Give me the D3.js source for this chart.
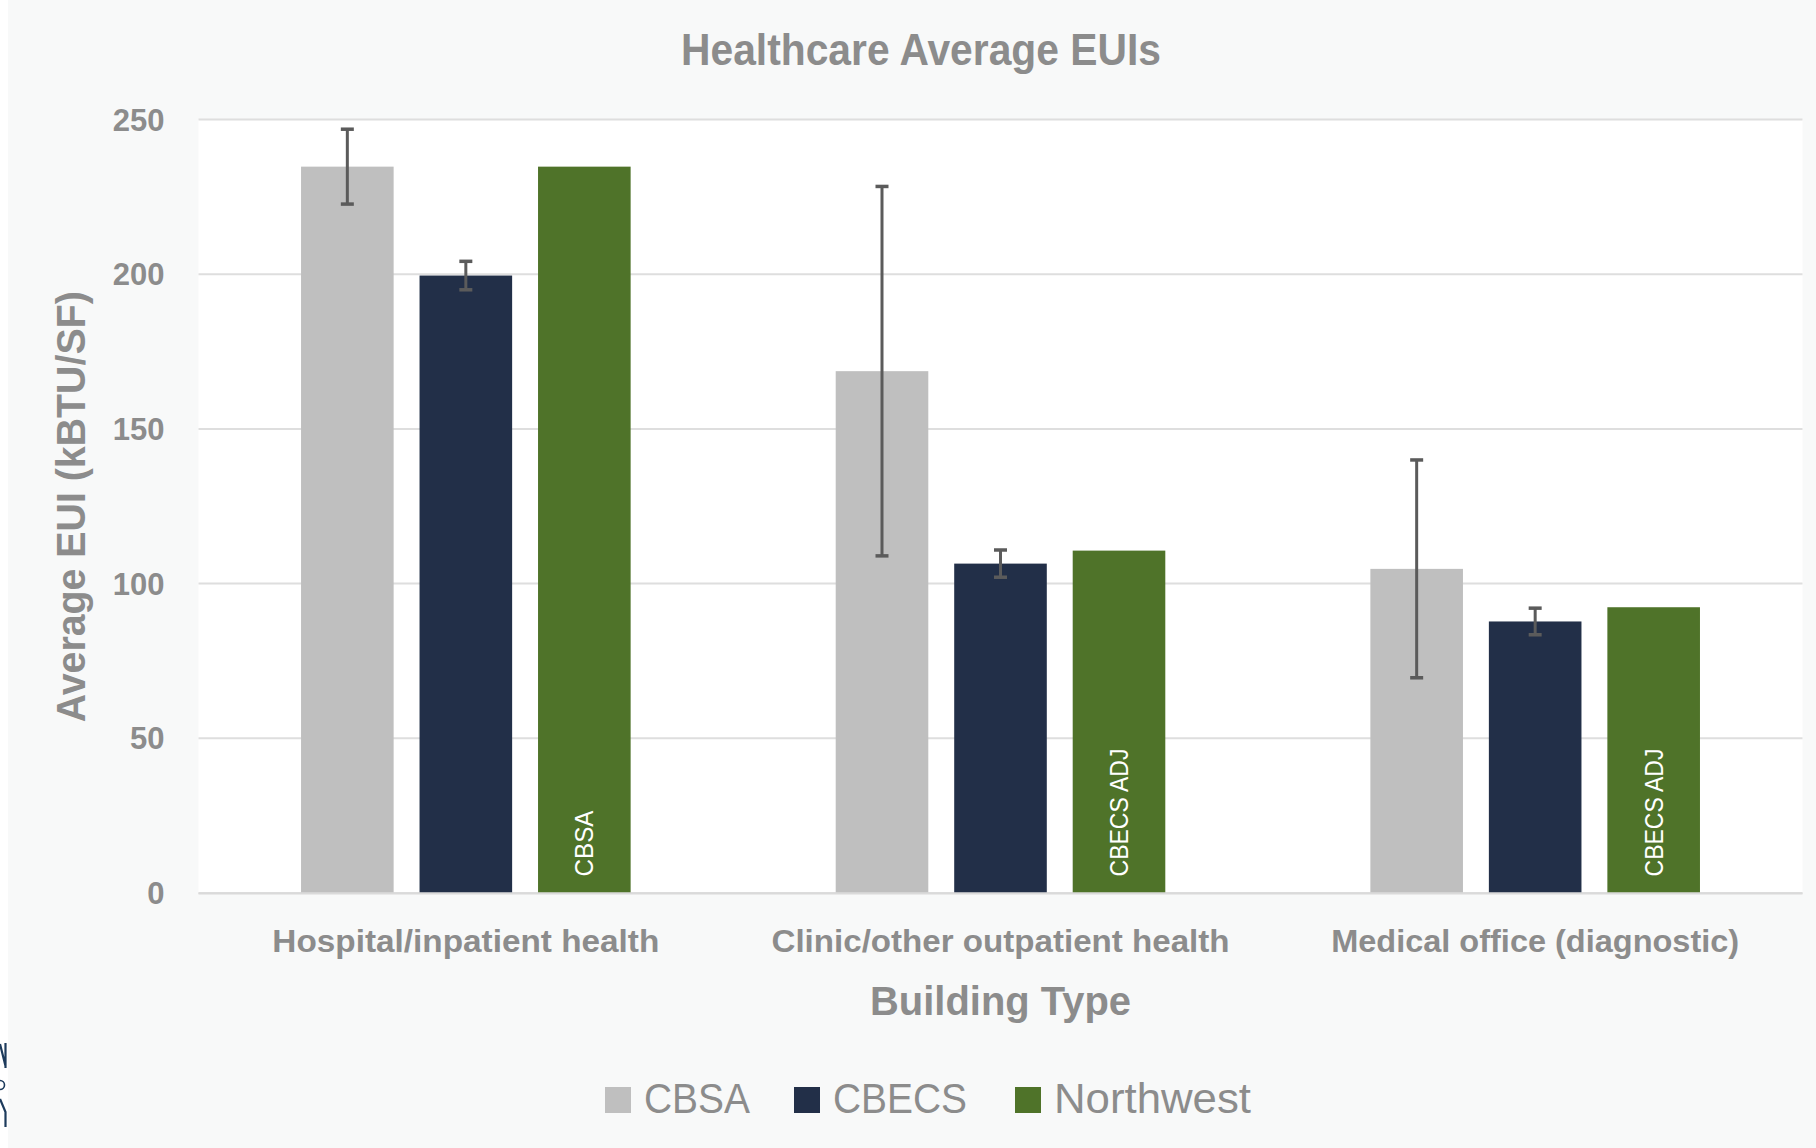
<!DOCTYPE html>
<html>
<head>
<meta charset="utf-8">
<script src="https://cdn.jsdelivr.net/npm/d3@7"></script>
<style>
  html, body { margin: 0; padding: 0; background: #ffffff; }
  svg { display: block; }
</style>
</head>
<body>
<svg id="chart" width="1816" height="1148"></svg>
<script>
// ---- Data ----
const categories = ["Hospital/inpatient health", "Clinic/other outpatient health", "Medical office (diagnostic)"];
const seriesNames = ["CBSA", "CBECS", "Northwest"];
const cbsaValues = [234.6, 168.5, 104.6];
const cbsaErrors = [12.1, 59.7, 35.2];
const cbecsValues = [199.4, 106.3, 87.6];
const cbecsErrors = [4.6, 4.4, 4.3];
const northwestValues = [234.6, 110.5, 92.2];
const northwestBarLabels = ["CBSA", "CBECS ADJ", "CBECS ADJ"];
const yTicks = [0, 50, 100, 150, 200, 250];
const chartTitle = "Healthcare Average EUIs";
const xAxisTitle = "Building Type";
const yAxisTitle = "Average EUI (kBTU/SF)";

const seriesColors = { "CBSA": "#bfbfbf", "CBECS": "#222f48", "Northwest": "#4f7329" };

const rows = categories.map((c, i) => ({
  category: c,
  values: [
    { series: "CBSA", value: cbsaValues[i], err: cbsaErrors[i], label: null },
    { series: "CBECS", value: cbecsValues[i], err: cbecsErrors[i], label: null },
    { series: "Northwest", value: northwestValues[i], err: null, label: northwestBarLabels[i] }
  ]
}));

// ---- Layout ----
const svg = d3.select("#chart");
const W = 1816, H = 1148;
const plot = { left: 198.5, right: 1802.5, top: 119, bottom: 892.5 };
const textGray = "#8c8c8c";

// background
svg.append("rect").attr("x", 8).attr("y", 0).attr("width", W - 8).attr("height", H).attr("fill", "#f8f9f9");
svg.append("rect").attr("x", plot.left).attr("y", plot.top)
  .attr("width", plot.right - plot.left).attr("height", plot.bottom - plot.top).attr("fill", "#ffffff");

// scales
const y = d3.scaleLinear().domain([0, 250]).range([plot.bottom, plot.top]);
const x0 = d3.scaleBand().domain(categories).range([plot.left, plot.right]).paddingInner(0).paddingOuter(0);
const groupW = 329.6;
const x1 = d3.scaleBand().domain(seriesNames)
  .range([(x0.bandwidth() - groupW) / 2, (x0.bandwidth() + groupW) / 2])
  .paddingInner(0.2186).paddingOuter(0);

// gridlines via axis
const yAxis = d3.axisLeft(y).tickValues(yTicks).tickSize(-(plot.right - plot.left)).tickFormat(d3.format("d")).tickPadding(34);
const gy = svg.append("g").attr("transform", `translate(${plot.left},0)`).call(yAxis);
gy.select(".domain").remove();
gy.selectAll(".tick line").attr("stroke", "#dedede").attr("stroke-width", 2);
gy.selectAll(".tick text")
  .attr("fill", textGray)
  .style("font-family", "'Liberation Sans', Arial, sans-serif")
  .style("font-weight", "bold")
  .style("font-size", "31px")
  .attr("dy", "0.36em");

// bars
const groups = svg.append("g").selectAll("g.grp").data(rows).join("g")
  .attr("class", "grp")
  .attr("transform", d => `translate(${x0(d.category)},0)`);

groups.selectAll("rect.bar").data(d => d.values).join("rect")
  .attr("class", "bar")
  .attr("x", d => x1(d.series))
  .attr("width", x1.bandwidth())
  .attr("y", d => y(d.value))
  .attr("height", d => y(0) - y(d.value))
  .attr("fill", d => seriesColors[d.series]);

// inside labels
groups.selectAll("text.inlabel").data(d => d.values.filter(v => v.label)).join("text")
  .attr("class", "inlabel")
  .attr("transform", d => `translate(${x1(d.series) + x1.bandwidth() / 2},${y(0) - 16}) rotate(-90)`)
  .attr("text-anchor", "start")
  .attr("dominant-baseline", "central")
  .attr("fill", "#ffffff")
  .style("font-family", "'Liberation Sans', Arial, sans-serif")
  .style("font-size", "25px")
  .attr("textLength", d => d.label === "CBSA" ? 66 : 128)
  .attr("lengthAdjust", "spacingAndGlyphs")
  .text(d => d.label);

// error bars
const errColor = "#5b5b5b";
const errG = groups.selectAll("g.err").data(d => d.values.filter(v => v.err != null)).join("g").attr("class", "err");
errG.append("line")
  .attr("x1", d => x1(d.series) + x1.bandwidth() / 2)
  .attr("x2", d => x1(d.series) + x1.bandwidth() / 2)
  .attr("y1", d => y(d.value + d.err))
  .attr("y2", d => y(d.value - d.err))
  .attr("stroke", errColor).attr("stroke-width", 3);
errG.selectAll("line.cap").data(d => [[d, d.value + d.err], [d, d.value - d.err]]).join("line")
  .attr("class", "cap")
  .attr("x1", d => x1(d[0].series) + x1.bandwidth() / 2 - 6.5)
  .attr("x2", d => x1(d[0].series) + x1.bandwidth() / 2 + 6.5)
  .attr("y1", d => y(d[1]))
  .attr("y2", d => y(d[1]))
  .attr("stroke", errColor).attr("stroke-width", 3.5);

// x axis baseline
svg.append("line").attr("x1", plot.left).attr("x2", plot.right)
  .attr("y1", y(0) + 1).attr("y2", y(0) + 1)
  .attr("stroke", "#dadada").attr("stroke-width", 2);

// category labels
const catWidths = [387, 458, 408];
svg.append("g").selectAll("text").data(categories).join("text")
  .attr("x", d => x0(d) + x0.bandwidth() / 2)
  .attr("y", 951.5)
  .attr("text-anchor", "middle")
  .attr("fill", textGray)
  .style("font-family", "'Liberation Sans Narrow', 'Arial Narrow', sans-serif")
  .style("font-weight", "bold")
  .style("font-size", "32px")
  .attr("textLength", (d, i) => catWidths[i])
  .attr("lengthAdjust", "spacingAndGlyphs")
  .text(d => d);

// title
svg.append("text")
  .attr("x", 921).attr("y", 65)
  .attr("text-anchor", "middle")
  .attr("fill", textGray)
  .style("font-family", "'Liberation Sans Narrow', 'Arial Narrow', sans-serif")
  .style("font-weight", "bold")
  .style("font-size", "45px")
  .attr("textLength", 480)
  .attr("lengthAdjust", "spacingAndGlyphs")
  .text(chartTitle);

// x axis title
svg.append("text")
  .attr("x", x0(categories[1]) + x0.bandwidth() / 2).attr("y", 1015)
  .attr("text-anchor", "middle")
  .attr("fill", textGray)
  .style("font-family", "'Liberation Sans Narrow', 'Arial Narrow', sans-serif")
  .style("font-weight", "bold")
  .style("font-size", "41px")
  .attr("textLength", 261)
  .attr("lengthAdjust", "spacingAndGlyphs")
  .text(xAxisTitle);

// y axis title
svg.append("text")
  .attr("transform", `translate(85,${(plot.top + plot.bottom) / 2 + 1}) rotate(-90)`)
  .attr("text-anchor", "middle")
  .attr("fill", textGray)
  .style("font-family", "'Liberation Sans', Arial, sans-serif")
  .style("font-weight", "bold")
  .style("font-size", "40px")
  .attr("textLength", 431)
  .attr("lengthAdjust", "spacingAndGlyphs")
  .text(yAxisTitle);

// legend
const legendX = [605, 794, 1015];
const legendTextW = [106, 134, 197];
const lg = svg.append("g").selectAll("g").data(seriesNames).join("g")
  .attr("transform", (d, i) => `translate(${legendX[i]},0)`);
lg.append("rect").attr("x", 0).attr("y", 1087).attr("width", 26).attr("height", 26)
  .attr("fill", d => seriesColors[d]);
lg.append("text").attr("x", 39).attr("y", 1112.5)
  .attr("fill", textGray)
  .style("font-family", "'Liberation Sans Narrow', 'Arial Narrow', sans-serif")
  .style("font-size", "43px")
  .attr("textLength", (d, i) => legendTextW[i])
  .attr("lengthAdjust", "spacingAndGlyphs")
  .text(d => d);

// cropped logo fragment at bottom-left edge
const logo = svg.append("g").attr("fill", "none").attr("stroke", "#1d3b5c").attr("stroke-width", 2.2);
logo.append("path").attr("d", "M0,1044 L5.5,1066 M5.5,1043 L5.5,1068");
logo.append("circle").attr("cx", 0).attr("cy", 1085).attr("r", 4.5).attr("stroke-width", 1.6);
logo.append("path").attr("d", "M0,1099 L5.5,1112 L5.5,1127");
</script>
</body>
</html>
